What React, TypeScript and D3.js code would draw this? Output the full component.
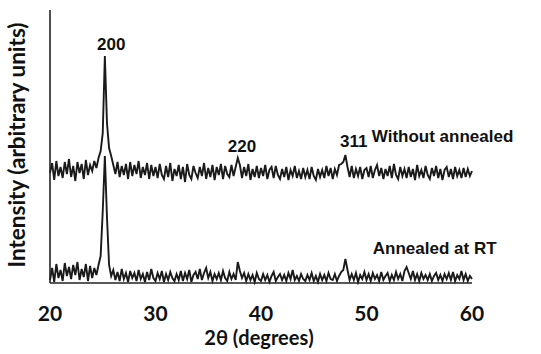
import React from "react";
import * as d3 from "d3";

// 2θ sampling: start, step (degrees)
const angleStart = 20;
const angleStep = 0.2;

// Intensity (arbitrary units), sampled every 0.2° from 20° to 60°
const withoutAnnealed: number[] = [
  110, 120, 103, 122, 107, 116, 105, 121, 109, 124,
  106, 117, 102, 121, 110, 119, 104, 123, 108, 118,
  112, 122, 115, 125, 132, 150, 227, 160, 135, 127,
  118, 109, 121, 106, 117, 108, 119, 104, 121, 107,
  118, 109, 122, 105, 116, 108, 120, 104, 118, 107,
  116, 105, 119, 108, 104, 117, 106, 120, 102, 114,
  107, 118, 104, 116, 101, 119, 108, 104, 117, 110,
  105, 116, 107, 120, 104, 115, 106, 118, 103, 116,
  108, 119, 104, 117, 109, 106, 118, 107, 116, 125,
  118, 105, 116, 107, 119, 103, 114, 106, 117, 105,
  115, 107, 118, 104, 113, 116, 105, 117, 108, 104,
  114, 106, 116, 103, 113, 107, 117, 105, 112, 104,
  115, 106, 113, 104, 116, 107, 103, 114, 106, 113,
  105, 117, 107, 115, 104, 114, 108, 118, 119, 121,
  128, 116, 106, 117, 105, 114, 107, 116, 104, 113,
  115, 106, 117, 105, 113, 118, 107, 115, 104, 114,
  107, 117, 105, 119, 108, 104, 116, 107, 114, 105,
  116, 106, 114, 103, 118, 107, 113, 105, 117, 108,
  104, 115, 107, 117, 105, 114, 103, 113, 116, 106,
  114, 104, 116, 107, 113, 105, 115, 106, 114, 107,
  112,
];

const annealedAtRT: number[] = [
  3, 15, 1, 19, 5, 13, 2, 20, 7, 16,
  4, 18, 8, 21, 3, 14, 6, 19, 2, 17,
  5, 15, 8, 18, 27, 72, 127, 66, 18, 7,
  13, 3, 11, 2, 14, 4, 10, 1, 12, 5,
  10, 2, 13, 4, 9, 1, 11, 3, 14, 5,
  2, 10, 4, 12, 1, 9, 3, 11, 5, 2,
  9, 3, 12, 2, 10, 4, 13, 1, 8, 11,
  4, 14, 3, 10, 15, 5, 11, 2, 9, 4,
  10, 3, 12, 5, 2, 11, 4, 9, 3, 21,
  12, 5, 10, 2, 9, 3, 8, 1, 10, 4,
  2, 9, 3, 8, 1, 7, 11, 2, 6, 9,
  3, 8, 2, 10, 4, 13, 3, 7, 2, 9,
  4, 2, 8, 3, 10, 2, 7, 1, 9, 3,
  8, 2, 10, 4, 3, 9, 2, 7, 11, 13,
  24, 13, 3, 9, 3, 10, 1, 8, 4, 11,
  3, 9, 2, 10, 4, 8, 2, 11, 3, 7,
  10, 2, 8, 3, 11, 4, 9, 2, 12, 16,
  10, 4, 12, 3, 9, 2, 10, 4, 8, 3,
  9, 2, 7, 10, 3, 8, 2, 9, 4, 10,
  3, 11, 2, 8, 4, 12, 3, 9, 2, 7,
  4,
];

const xTicks = [20, 30, 40, 50, 60];

const peakLabels = [
  { text: "200", angle: 25.8, value: 233 },
  { text: "220", angle: 38.2, value: 131 },
  { text: "311", angle: 48.8, value: 136 },
];

const seriesLabels = [
  { text: "Without annealed", angle: 50.5, value: 141 },
  { text: "Annealed at RT", angle: 50.6, value: 29 },
];

export default function App() {
  const width = 541;
  const height = 354;
  const x = d3.scaleLinear().domain([20, 60]).range([50, 472]);
  const y = d3.scaleLinear().domain([0, 273]).range([283, 10]);

  const line = d3
    .line<number>()
    .x((_, i) => x(angleStart + i * angleStep))
    .y((d) => y(d));

  return (
    <svg
      width={width}
      height={height}
      style={{ position: "absolute", left: 0, top: 0, background: "#fff" }}
    >
      <path d={line(withoutAnnealed) || ""} fill="none" stroke="#1a1a1a" strokeWidth={1.9} strokeLinejoin="miter" />
      <path d={line(annealedAtRT) || ""} fill="none" stroke="#1a1a1a" strokeWidth={1.9} strokeLinejoin="miter" />

      <line x1={x(20)} x2={x(20)} y1={y(273)} y2={y(0)} stroke="#222" strokeWidth={1.6} />
      <line x1={x(20)} x2={x(60)} y1={y(0)} y2={y(0)} stroke="#222" strokeWidth={1.6} />

      {xTicks.map((t) => (
        <text
          key={t}
          x={x(t)}
          y={321}
          textAnchor="middle"
          fontFamily="Lato, 'Open Sans', sans-serif"
          fontWeight="bold"
          fontSize={21}
          fill="#111"
        >
          {t}
        </text>
      ))}

      <text
        x={259}
        y={345}
        textAnchor="middle"
        fontFamily="Lato, 'Open Sans', sans-serif"
        fontWeight="bold"
        fontSize={20}
        fill="#111"
      >
        2θ (degrees)
      </text>

      <text
        transform={`translate(25,145) rotate(-90)`}
        textAnchor="middle"
        fontFamily="Lato, 'Open Sans', sans-serif"
        fontWeight="bold"
        fontSize={22.5}
        fill="#111"
      >
        Intensity (arbitrary units)
      </text>

      {peakLabels.map((p) => (
        <text
          key={p.text}
          x={x(p.angle)}
          y={y(p.value)}
          textAnchor="middle"
          fontFamily="'Liberation Sans', Arial, sans-serif"
          fontWeight="bold"
          fontSize={17}
          fill="#111"
        >
          {p.text}
        </text>
      ))}

      {seriesLabels.map((s) => (
        <text
          key={s.text}
          x={x(s.angle)}
          y={y(s.value)}
          textAnchor="start"
          fontFamily="'Liberation Sans', Arial, sans-serif"
          fontWeight="bold"
          fontSize={17}
          fill="#111"
        >
          {s.text}
        </text>
      ))}
    </svg>
  );
}
